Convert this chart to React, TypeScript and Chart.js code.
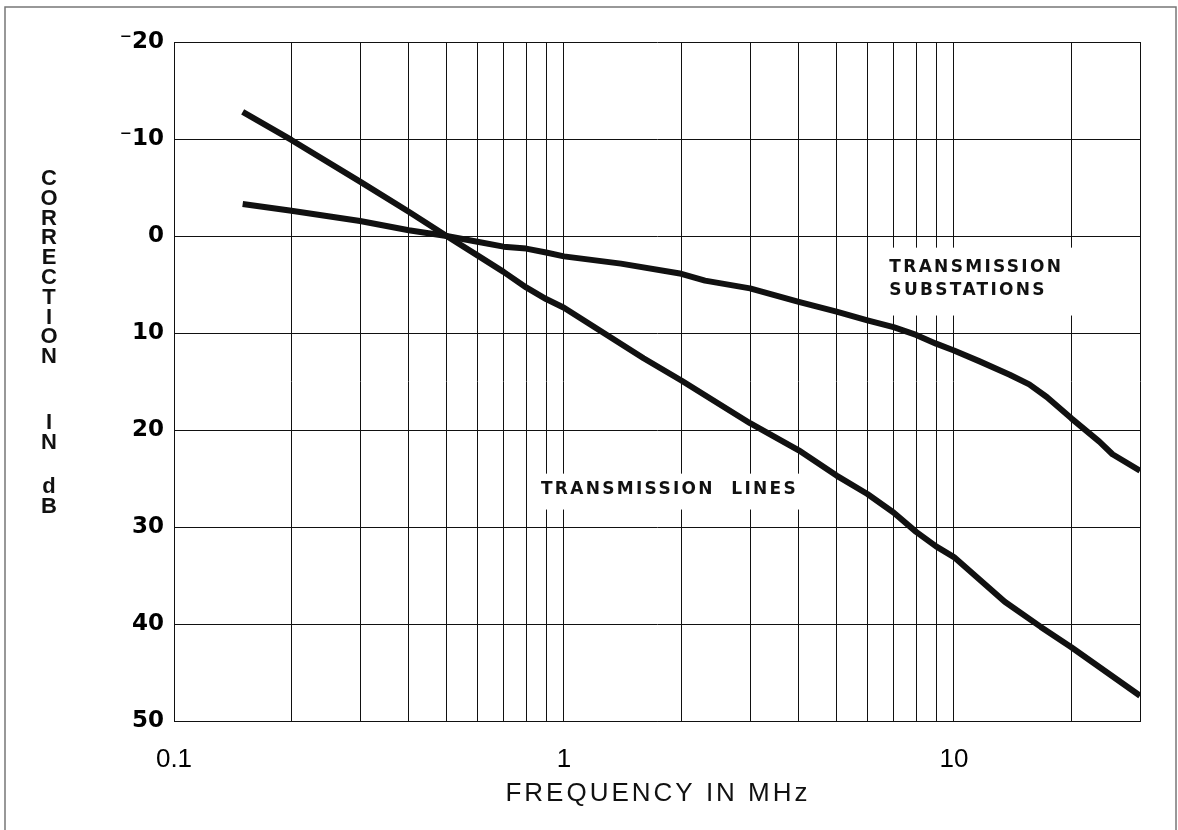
import React, { useEffect, useRef } from 'react';
import { Chart, registerables } from 'chart.js';

Chart.register(...registerables);

// ---- Data ----
const lineFreqs = [0.15, 0.2, 0.3, 0.4, 0.5, 0.6, 0.7, 0.8, 0.9, 1, 1.6, 2, 3, 4, 5, 6, 7, 8, 9, 10, 13.5, 16.7, 20, 30];
const lineDb = [-12.8, -9.9, -5.6, -2.5, 0, 2.0, 3.7, 5.3, 6.5, 7.4, 12.6, 14.9, 19.3, 22.1, 24.7, 26.6, 28.5, 30.5, 32.0, 33.1, 37.7, 40.3, 42.4, 47.4];

const subFreqs = [0.15, 0.2, 0.3, 0.4, 0.5, 0.6, 0.7, 0.8, 0.9, 1, 1.4, 2, 2.3, 3, 4, 5, 6, 7, 8, 9, 10, 11.6, 13.9, 15.6, 17.3, 20, 23.6, 25.5, 30];
const subDb = [-3.3, -2.6, -1.55, -0.6, 0, 0.6, 1.1, 1.3, 1.7, 2.1, 2.85, 3.9, 4.6, 5.4, 6.8, 7.8, 8.7, 9.4, 10.2, 11.1, 11.8, 12.9, 14.3, 15.3, 16.6, 18.8, 21.2, 22.5, 24.2];

const xGridValues = [0.1, 0.2, 0.3, 0.4, 0.5, 0.6, 0.7, 0.8, 0.9, 1, 2, 3, 4, 5, 6, 7, 8, 9, 10, 20, 30];
const xLabelValues = [0.1, 1, 10];
const xLabelTexts = ['0.1', '1', '10'];
const yTicks = [-20, -10, 0, 10, 20, 30, 40, 50];
const yTickLabels = ['\u207B20', '\u207B10', '0', '10', '20', '30', '40', '50'];

const xTitle = 'FREQUENCY IN MHz';
const yTitleWords = ['CORRECTION', 'IN', 'dB'];

const seriesNames = ['TRANSMISSION LINES', 'TRANSMISSION SUBSTATIONS'];

// label boxes, in data units: [fMin, fMax, dbTop, dbBottom], text anchor [f, db...]
const annotations = [
  { lines: ['TRANSMISSION  LINES'], box: [0.843, 4.16, 24.5, 28.2], textF: 0.873, textDb: [26.1] },
  { lines: ['TRANSMISSION', 'SUBSTATIONS'], box: [6.1, 21.0, 1.2, 8.2], textF: 6.83, textDb: [3.3, 5.6] },
];

const decorPlugin = {
  id: 'decor',
  beforeDraw(chart: any) {
    const ctx = chart.ctx;
    ctx.save();
    ctx.fillStyle = '#ffffff';
    ctx.fillRect(0, 0, chart.width, chart.height);
    ctx.strokeStyle = '#777';
    ctx.lineWidth = 1.5;
    ctx.strokeRect(5, 7, 1171, 900);
    ctx.restore();
  },
  beforeDatasetsDraw(chart: any) {
    const ctx = chart.ctx;
    const xs = chart.scales.x;
    const ys = chart.scales.y;
    ctx.save();
    ctx.fillStyle = '#ffffff';
    for (const a of annotations) {
      const x0 = xs.getPixelForValue(a.box[0]);
      const x1 = xs.getPixelForValue(a.box[1]);
      const y0 = ys.getPixelForValue(a.box[2]);
      const y1 = ys.getPixelForValue(a.box[3]);
      ctx.fillRect(x0, y0, x1 - x0, y1 - y0);
    }
    ctx.restore();
  },
  afterDatasetsDraw(chart: any) {
    const ctx = chart.ctx;
    const xs = chart.scales.x;
    const ys = chart.scales.y;
    const area = chart.chartArea;
    ctx.save();
    ctx.fillStyle = '#111';
    // curve labels
    ctx.font = 'bold 17px "DejaVu Sans"';
    (ctx as any).letterSpacing = '2.3px';
    ctx.textAlign = 'left';
    ctx.textBaseline = 'middle';
    for (const a of annotations) {
      const x = xs.getPixelForValue(a.textF);
      a.lines.forEach((t, i) => {
        ctx.fillText(t, x, ys.getPixelForValue(a.textDb[i]));
      });
    }
    // x title
    ctx.font = '26px "Liberation Sans"';
    (ctx as any).letterSpacing = '3px';
    ctx.textAlign = 'center';
    ctx.fillText(xTitle, (area.left + area.right) / 2 + 1, 794);
    // y title: stacked upright letters
    (ctx as any).letterSpacing = '0px';
    ctx.font = 'bold 22px "Liberation Sans"';
    const pitch = 19.8;
    const wordGaps = [0, 65.6, 44.4];
    let yPos = 179;
    yTitleWords.forEach((w, wi) => {
      if (wi > 0) yPos += wordGaps[wi] - pitch;
      for (const ch of w) {
        ctx.fillText(ch, 49, yPos);
        yPos += pitch;
      }
    });
    ctx.restore();
  },
};

export default function App() {
  const ref = useRef<HTMLCanvasElement>(null);
  useEffect(() => {
    if (!ref.current) return;
    const chart = new Chart(ref.current, {
      type: 'line',
      data: {
        datasets: [
          {
            label: seriesNames[0],
            data: lineFreqs.map((f, i) => ({ x: f, y: lineDb[i] })),
            borderColor: '#111',
            borderWidth: 6,
            pointRadius: 0,
            tension: 0,
            fill: false,
            borderJoinStyle: 'round',
          },
          {
            label: seriesNames[1],
            data: subFreqs.map((f, i) => ({ x: f, y: subDb[i] })),
            borderColor: '#111',
            borderWidth: 6,
            pointRadius: 0,
            tension: 0,
            fill: false,
            borderJoinStyle: 'round',
          },
        ],
      },
      options: {
        animation: false,
        responsive: false,
        devicePixelRatio: 1,
        layout: { padding: { top: 42, right: 38, left: 0, bottom: 0 } },
        plugins: {
          legend: { display: false },
          tooltip: { enabled: false },
          title: { display: false },
        },
        scales: {
          x: {
            type: 'logarithmic',
            min: 0.1,
            max: 30,
            afterBuildTicks: (s: any) => {
              s.ticks = xGridValues.map((v) => ({ value: v }));
            },
            afterFit: (s: any) => {
              s.height = 109;
            },
            grid: { color: '#111', lineWidth: 1, drawTicks: false },
            border: { display: true, color: '#111', width: 1 },
            ticks: {
              autoSkip: false,
              maxRotation: 0,
              minRotation: 0,
              padding: 23,
              color: '#000',
              font: { family: '"Liberation Sans"', size: 26 },
              callback: (v: any) => {
                const i = xLabelValues.indexOf(Number(v));
                return i >= 0 ? xLabelTexts[i] : '';
              },
            },
          },
          y: {
            type: 'linear',
            reverse: true,
            min: -20,
            max: 50,
            afterBuildTicks: (s: any) => {
              s.ticks = yTicks.map((v) => ({ value: v }));
            },
            afterFit: (s: any) => {
              s.width = 174;
            },
            grid: { color: '#111', lineWidth: 1, drawTicks: false },
            border: { display: true, color: '#111', width: 1 },
            ticks: {
              padding: 10,
              color: '#000',
              font: { family: '"DejaVu Sans"', size: 23, weight: 'bold' },
              callback: (v: any) => {
                const i = yTicks.indexOf(Number(v));
                return i >= 0 ? yTickLabels[i] : '';
              },
            },
          },
        },
      },
      plugins: [decorPlugin],
    } as any);
    return () => chart.destroy();
  }, []);
  return (
    <div style={{ position: 'absolute', left: 0, top: 0, width: 1178, height: 830 }}>
      <canvas ref={ref} width={1178} height={830} style={{ display: 'block' }} />
    </div>
  );
}
